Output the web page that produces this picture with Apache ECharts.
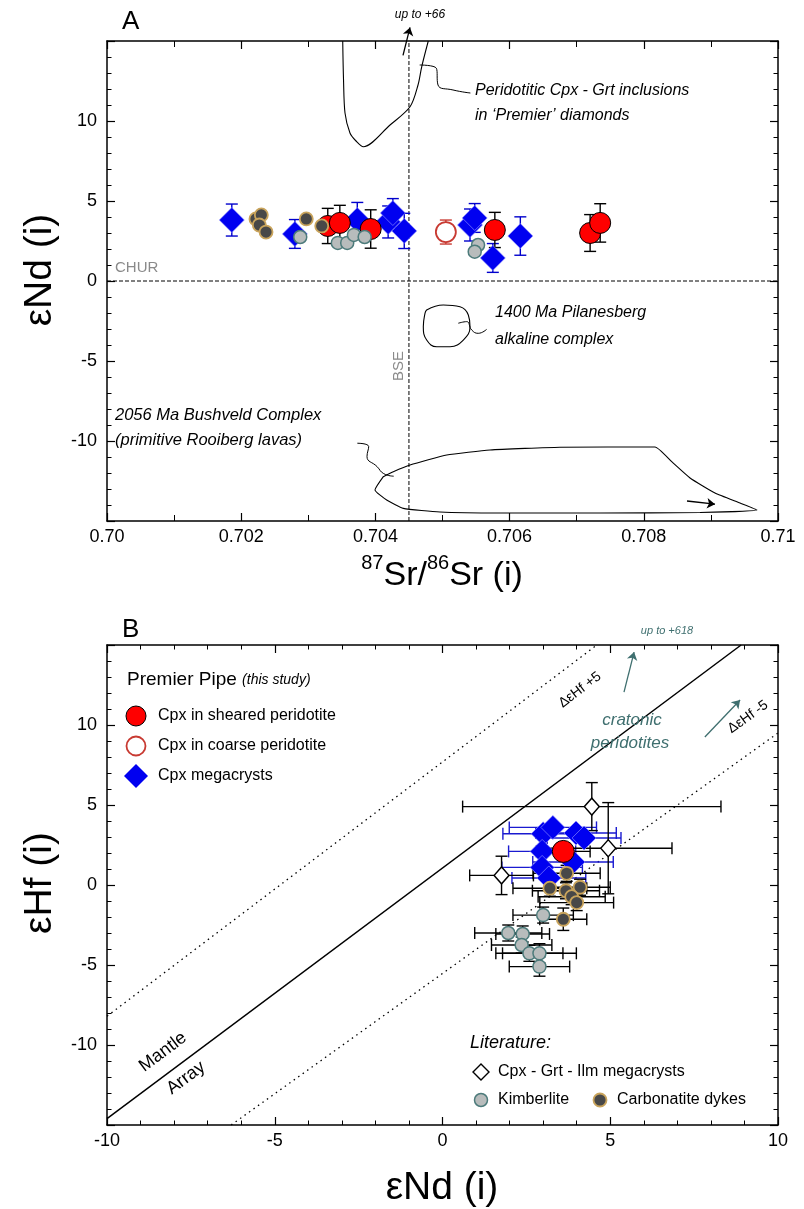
<!DOCTYPE html>
<html><head><meta charset="utf-8">
<script src="https://cdn.jsdelivr.net/npm/echarts@6/dist/echarts.min.js"></script>
<style>html,body{margin:0;padding:0;background:#fff}#c{width:804px;height:1209px}</style>
</head><body><div id="c"></div><script>
// ---------- Panel A data: 87Sr/86Sr(i) vs eNd(i) ----------
const A_mega = [[0.70186,3.81],[0.70280,2.94],[0.70373,3.81],[0.70419,3.69],[0.70426,4.25],[0.70443,3.13],[0.70541,3.50],[0.70548,3.94],[0.70575,1.44],[0.70616,2.81]];
const A_mega_err = [1.0,0.9,1.1,1.0,0.9,1.1,1.0,0.9,0.9,1.2];
const A_sheared = [[0.70329,3.44],[0.70347,3.63],[0.70393,3.25],[0.70578,3.19],[0.70720,3.00],[0.70735,3.63]];
const A_sheared_err = [1.1,1.1,1.2,1.1,1.15,1.2];
const A_coarse = [[0.70505,3.06]];
const A_coarse_err = [0.75];
const A_kimb = [[0.70288,2.75],[0.70344,2.38],[0.70358,2.38],[0.70368,2.88],[0.70384,2.75],[0.70553,2.25],[0.70548,1.83]];
const A_carb = [[0.70222,3.88],[0.70230,4.13],[0.70227,3.50],[0.70237,3.06],[0.70297,3.88],[0.70320,3.44]];
const A_chur = [[0.700,0],[0.710,0]];
const A_bse = [[0.7045,-15],[0.7045,15]];
const A_premier = [[0.703513,15.0],[0.703525,12.56],[0.703547,10.5],[0.703621,9.25],[0.703711,8.75],[0.70382,8.39],[0.704218,9.75],[0.704516,10.89],[0.704635,12.25],[0.70469,13.39],[0.704788,15.0]];
const A_premierLeader = [[0.70466,13.5],[0.704908,13.3],[0.704933,12.25],[0.705156,11.94],[0.705416,11.75]];
const A_up66 = [[0.704411,14.1],[0.704516,15.85]];
const A_pil = [[0.704764,-1.81],[0.705012,-1.5],[0.705261,-1.61],[0.705385,-2.125],[0.70541,-2.86],[0.70531,-3.69],[0.705112,-4.11],[0.704914,-4.11],[0.704764,-3.69],[0.704714,-2.86],[0.704739,-2.02],[0.704764,-1.81]];
const A_pilLeader = [[0.705235,-2.64],[0.70536,-2.54],[0.705435,-3.06],[0.705533,-3.27],[0.705658,-3.02]];
const A_bush = [[0.704118,-12.23],[0.704267,-11.92],[0.704516,-11.5],[0.705063,-10.875],[0.705708,-10.56],[0.706751,-10.39],[0.708167,-10.375],[0.70842,-11.31],[0.708689,-12.31],[0.709061,-13.25],[0.709434,-13.875],[0.709687,-14.31],[0.708838,-14.47],[0.707347,-14.5],[0.705857,-14.5],[0.704963,-14.44],[0.704416,-14.21],[0.704168,-13.69],[0.703994,-13.06],[0.704118,-12.23]];
const A_bushLeader = [[0.70373,-10.14],[0.7039,-10.35],[0.703875,-10.97],[0.704025,-11.6],[0.704124,-12.04],[0.704273,-12.2]];
const A_bushArrow = [[0.708644,-13.75],[0.709061,-13.95]];
const A_xTicks = ['0.70','0.702','0.704','0.706','0.708','0.71'];

// ---------- Panel B data: eNd(i) vs eHf(i) ----------
const B_mega = [[3.00,3.2],[3.29,3.6],[3.98,3.25],[4.22,2.94],[2.97,2.1],[2.97,1.1],[3.89,1.44],[3.17,0.44]];
const B_mega_xerr = [1.2,1.3,1.2,1.1,1.0,1.2,1.2,1.1];
const B_sheared = [[3.6,2.1]];
const B_sheared_xerr = [0.8], B_sheared_yerr = [0.5];
const B_lit = [[4.45,4.9],[4.94,2.3],[1.76,0.6]];
const B_lit_xerr = [3.85,1.9,0.95], B_lit_yerr = [1.5,2.85,1.2];
const B_kimb = [[3.0,-1.88],[1.96,-3.0],[2.39,-3.06],[2.36,-3.75],[2.59,-4.27],[2.89,-4.27],[2.89,-5.1]];
const B_kimb_xerr = [0.9,1.0,0.8,0.9,1.0,1.1,0.9], B_kimb_yerr = [0.5,0.5,0.5,0.5,0.5,0.6,0.6];
const B_carb = [[3.70,0.73],[3.20,-0.2],[3.68,-0.36],[4.10,-0.14],[3.85,-0.73],[4.00,-1.1],[3.60,-2.14]];
const B_carb_xerr = [1.0,1.1,1.0,0.9,1.0,1.1,0.7], B_carb_yerr = [0.5,0.5,0.5,0.5,0.5,0.5,0.7];
const B_mantle = [[-10,-14.6],[8.9,15]];
const B_plus5 = [[-10,-8.2],[4.6,15]];
const B_minus5 = [[-6.3,-15],[10,9.5]];
const B_arrow1 = [[5.41,12.06],[5.71,14.56]];
const B_arrow2 = [[7.82,9.25],[8.87,11.56]];

const FONT = '"Liberation Sans", Arial, Helvetica, sans-serif';
const TEAL = '#3f6f6f';

function errData(pts, xe, ye) {
  return pts.map((p, i) => {
    const dx = xe ? xe[i] : 0, dy = ye ? ye[i] : 0;
    return [p[0], p[1], p[0] - dx, p[0] + dx, p[1] - dy, p[1] + dy];
  });
}
function makeErr(color, cap) {
  return function (params, api) {
    const x = api.value(0), y = api.value(1);
    const xl = api.value(2), xh = api.value(3), yl = api.value(4), yh = api.value(5);
    const st = { stroke: color, lineWidth: 1.4 };
    const ch = [];
    const seg = (a, b) => ch.push({ type: 'line', shape: { x1: a[0], y1: a[1], x2: b[0], y2: b[1] }, style: st });
    if (xh > xl) {
      const p1 = api.coord([xl, y]), p2 = api.coord([xh, y]);
      seg(p1, p2);
      seg([p1[0], p1[1] - cap], [p1[0], p1[1] + cap]);
      seg([p2[0], p2[1] - cap], [p2[0], p2[1] + cap]);
    }
    if (yh > yl) {
      const p1 = api.coord([x, yl]), p2 = api.coord([x, yh]);
      seg(p1, p2);
      seg([p1[0] - cap, p1[1]], [p1[0] + cap, p1[1]]);
      seg([p2[0] - cap, p2[1]], [p2[0] + cap, p2[1]]);
    }
    return { type: 'group', children: ch };
  };
}
function errSeries(ax, data, color, cap) {
  return { type: 'custom', xAxisIndex: ax, yAxisIndex: ax, renderItem: makeErr(color, cap), data: data,
    encode: { x: [0, 2, 3], y: [1, 4, 5] }, silent: true, z: 2 };
}
function lineS(ax, data, style, extra) {
  return Object.assign({ type: 'line', xAxisIndex: ax, yAxisIndex: ax, data: data, symbol: 'none', silent: true,
    lineStyle: Object.assign({ color: '#000', width: 1.1 }, style), z: 1, animation: false }, extra || {});
}
function arrowS(ax, pts, color) {
  return { type: 'lines', coordinateSystem: 'cartesian2d', xAxisIndex: ax, yAxisIndex: ax, clip: false, silent: true,
    symbol: ['none', 'arrow'], symbolSize: 8, lineStyle: { color: color, width: 1.3, opacity: 1 },
    data: [{ coords: pts }], z: 4 };
}
function scat(ax, data, symbol, size, itemStyle, z) {
  return { type: 'scatter', xAxisIndex: ax, yAxisIndex: ax, data: data, symbol: symbol, symbolSize: size,
    itemStyle: Object.assign({ opacity: 1 }, itemStyle), z: z || 3, silent: true };
}

const red = { color: '#ff0000', borderColor: '#000', borderWidth: 1 };
const blue = { color: '#0000f0', borderColor: 'rgba(150,150,255,0.9)', borderWidth: 0.7 };
const coarse = { color: '#fff', borderColor: '#c83a32', borderWidth: 1.8 };
const kimb = { color: '#b8bcbc', borderColor: '#4d7b7b', borderWidth: 1.5 };
const carb = { color: '#484848', borderColor: '#c9a45c', borderWidth: 1.8 };
const lit = { color: '#fff', borderColor: '#000', borderWidth: 1.4 };

function axisCommon(labelShow) {
  return {
    axisLine: { show: true, onZero: false, lineStyle: { color: '#000', width: 1.5 } },
    axisTick: { show: true, inside: true, length: 8, lineStyle: { color: '#000', width: 1.2 } },
    minorTick: { show: true, length: 4.5, lineStyle: { color: '#000', width: 1 } },
    splitLine: { show: false }, minorSplitLine: { show: false },
    axisLabel: { show: labelShow, color: '#000', fontSize: 18, fontFamily: FONT }
  };
}
function fmtSr(v) {
  const s = Math.round(v * 1000) / 1000;
  const idx = Math.round((s - 0.700) / 0.002);
  return A_xTicks[idx] !== undefined ? A_xTicks[idx] : '';
}
function mt(n, len) { return { show: true, splitNumber: n, length: len, lineStyle: { color: '#000', width: 1 } }; }

const xAxes = [
  Object.assign(axisCommon(true), { gridIndex: 0, position: 'bottom', min: 0.700, max: 0.710, interval: 0.002, minorTick: mt(2, 6) }),
  Object.assign(axisCommon(false), { gridIndex: 0, position: 'top', min: 0.700, max: 0.710, interval: 0.002, minorTick: mt(2, 6) }),
  Object.assign(axisCommon(true), { gridIndex: 1, position: 'bottom', min: -10, max: 10, interval: 5, minorTick: mt(5, 4.5) }),
  Object.assign(axisCommon(false), { gridIndex: 1, position: 'top', min: -10, max: 10, interval: 5, minorTick: mt(5, 4.5) })
];
xAxes[0].axisLabel.formatter = fmtSr;
xAxes[0].axisLabel.margin = 7;
xAxes[2].axisLabel.margin = 7;
const yAxes = [
  Object.assign(axisCommon(true), { gridIndex: 0, position: 'left', min: -15, max: 15, interval: 5, minorTick: mt(5, 4.5) }),
  Object.assign(axisCommon(false), { gridIndex: 0, position: 'right', min: -15, max: 15, interval: 5, minorTick: mt(5, 4.5) }),
  Object.assign(axisCommon(true), { gridIndex: 1, position: 'left', min: -15, max: 15, interval: 5, minorTick: mt(5, 4.5) }),
  Object.assign(axisCommon(false), { gridIndex: 1, position: 'right', min: -15, max: 15, interval: 5, minorTick: mt(5, 4.5) })
];
[0, 2].forEach(i => { yAxes[i].axisLabel.showMinLabel = false; yAxes[i].axisLabel.showMaxLabel = false; yAxes[i].axisLabel.margin = 10; });

function txt(x, y, text, size, opts) {
  opts = opts || {};
  return { type: 'text', x: x, y: y, rotation: opts.rot || 0, z: 100, silent: true,
    style: { text: text, fill: opts.color || '#000', fontSize: size, fontFamily: FONT, fontStyle: opts.italic ? 'italic' : 'normal',
      textAlign: opts.align || 'left', align: opts.align || 'left', textVerticalAlign: 'middle', verticalAlign: 'middle', rich: opts.rich } };
}
const graphics = [
  txt(122, 22, 'A', 26),
  txt(122, 630, 'B', 26),
  txt(420, 15, 'up to +66', 12, { italic: true, align: 'center' }),
  txt(475, 91, 'Peridotitic Cpx - Grt inclusions', 16, { italic: true }),
  txt(475, 116, 'in \u2018Premier\u2019 diamonds', 16, { italic: true }),
  txt(495, 313, '1400 Ma Pilanesberg', 16, { italic: true }),
  txt(495, 340, 'alkaline complex', 16, { italic: true }),
  txt(115, 415, '2056 Ma Bushveld Complex', 16.5, { italic: true }),
  txt(115, 440, '(primitive Rooiberg lavas)', 16.5, { italic: true }),
  txt(115, 268, 'CHUR', 15, { color: '#8a8a8a' }),
  txt(399, 366, 'BSE', 15, { color: '#8a8a8a', rot: Math.PI / 2, align: 'center' }),
  txt(40, 270, '\u03b5Nd (i)', 39, { rot: Math.PI / 2, align: 'center' }),
  txt(442, 573, '{s|87}{b|Sr/}{s|86}{b|Sr (i)}', 34, { align: 'center', rich: {
    s: { fontSize: 20, fontFamily: FONT, verticalAlign: 'top', lineHeight: 40, fill: '#000' },
    b: { fontSize: 34, fontFamily: FONT, verticalAlign: 'bottom', lineHeight: 40, fill: '#000' } } }),
  txt(40, 883, '\u03b5Hf (i)', 39, { rot: Math.PI / 2, align: 'center' }),
  txt(442, 1188, '\u03b5Nd (i)', 39, { align: 'center' }),
  // panel B annotations
  txt(667, 631, 'up to +618', 11, { italic: true, color: TEAL, align: 'center' }),
  txt(632, 720, 'cratonic', 17, { italic: true, color: TEAL, align: 'center' }),
  txt(630, 743, 'peridotites', 17, { italic: true, color: TEAL, align: 'center' }),
  txt(580, 690, '\u0394\u03b5Hf +5', 14, { rot: 0.65, align: 'center' }),
  txt(748, 717, '\u0394\u03b5Hf -5', 14, { rot: 0.62, align: 'center' }),
  txt(163, 1052, 'Mantle', 18, { rot: 0.642, align: 'center' }),
  txt(186, 1078, 'Array', 18, { rot: 0.642, align: 'center' }),
  // legend: this study
  txt(127, 680, '{a|Premier Pipe} {b|(this study)}', 19, { rich: {
    a: { fontSize: 19, fontFamily: FONT, fill: '#000' }, b: { fontSize: 14, fontFamily: FONT, fontStyle: 'italic', fill: '#000' } } }),
  { type: 'circle', shape: { cx: 136, cy: 716, r: 10 }, style: { fill: '#ff0000', stroke: '#000', lineWidth: 1 }, z: 100 },
  txt(158, 716, 'Cpx in sheared peridotite', 16),
  { type: 'circle', shape: { cx: 136, cy: 746, r: 9.5 }, style: { fill: '#fff', stroke: '#c83a32', lineWidth: 1.8 }, z: 100 },
  txt(158, 746, 'Cpx in coarse peridotite', 16),
  { type: 'polygon', shape: { points: [[136, 764], [148, 776], [136, 788], [124, 776]] }, style: { fill: '#0000f0' }, z: 100 },
  txt(158, 776, 'Cpx megacrysts', 16),
  // legend: literature
  txt(470, 1043, 'Literature:', 18, { italic: true }),
  { type: 'polygon', shape: { points: [[481, 1064], [489, 1072], [481, 1080], [473, 1072]] }, style: { fill: '#fff', stroke: '#000', lineWidth: 1.4 }, z: 100 },
  txt(498, 1072, 'Cpx - Grt - Ilm megacrysts', 16),
  { type: 'circle', shape: { cx: 481, cy: 1100, r: 6.5 }, style: { fill: '#b8bcbc', stroke: '#4d7b7b', lineWidth: 1.5 }, z: 100 },
  txt(498, 1100, 'Kimberlite', 16),
  { type: 'circle', shape: { cx: 600, cy: 1100, r: 6.5 }, style: { fill: '#484848', stroke: '#c9a45c', lineWidth: 1.8 }, z: 100 },
  txt(617, 1100, 'Carbonatite dykes', 16)
];

const series = [
  // panel A reference lines and fields
  lineS(0, A_chur, { type: [4, 2], width: 1 }),
  lineS(0, A_bse, { type: [4, 2], width: 1 }),
  lineS(0, A_premier, {}, { smooth: 0.3 }),
  lineS(0, A_premierLeader, { width: 1 }, { smooth: 0.5 }),
  lineS(0, A_pil, {}, { smooth: 0.45 }),
  lineS(0, A_pilLeader, { width: 1 }, { smooth: 0.5 }),
  lineS(0, A_bush, {}, { smooth: 0.15, clip: false }),
  lineS(0, A_bushLeader, { width: 1 }, { smooth: 0.5 }),
  arrowS(0, A_up66, '#000'),
  arrowS(0, A_bushArrow, '#000'),
  // panel A error bars
  errSeries(0, errData(A_mega, null, A_mega_err), '#0000cc', 6),
  errSeries(0, errData(A_sheared, null, A_sheared_err), '#000', 6),
  errSeries(0, errData(A_coarse, null, A_coarse_err), '#c83a32', 6),
  // panel A symbols
  scat(0, A_mega, 'diamond', 25, blue, 3),
  scat(0, A_sheared, 'circle', 21, red, 4),
  scat(0, A_coarse, 'circle', 20, coarse, 4),
  scat(0, A_kimb, 'circle', 13, kimb, 5),
  scat(0, A_carb, 'circle', 13, carb, 6),
  // panel B lines
  lineS(2, B_mantle, { width: 1.5 }),
  lineS(2, B_plus5, { type: [1.5, 4], width: 1.3 }),
  lineS(2, B_minus5, { type: [1.5, 4], width: 1.3 }),
  arrowS(2, B_arrow1, TEAL),
  arrowS(2, B_arrow2, TEAL),
  // panel B error bars
  errSeries(2, errData(B_mega, B_mega_xerr, null), '#1a1ad0', 6),
  errSeries(2, errData(B_lit, B_lit_xerr, B_lit_yerr), '#000', 6),
  errSeries(2, errData(B_kimb, B_kimb_xerr, B_kimb_yerr), '#000', 6),
  errSeries(2, errData(B_carb, B_carb_xerr, B_carb_yerr), '#000', 6),
  errSeries(2, errData(B_sheared, B_sheared_xerr, B_sheared_yerr), '#000', 6),
  // panel B symbols
  scat(2, B_mega, 'diamond', 24, blue, 3),
  scat(2, B_lit, 'diamond', [15, 17], lit, 4),
  scat(2, B_kimb, 'circle', 13, kimb, 5),
  scat(2, B_carb, 'circle', 13, carb, 6),
  scat(2, B_sheared, 'circle', 22, red, 7)
];

const chart = echarts.init(document.getElementById('c'), null, { renderer: 'canvas' });
chart.setOption({
  animation: false,
  backgroundColor: '#fff',
  grid: [
    { left: 107, top: 41, width: 671, height: 480 },
    { left: 107, top: 645, width: 671, height: 480 }
  ],
  xAxis: xAxes,
  yAxis: yAxes,
  series: series,
  graphic: { elements: graphics }
});
</script></body></html>
